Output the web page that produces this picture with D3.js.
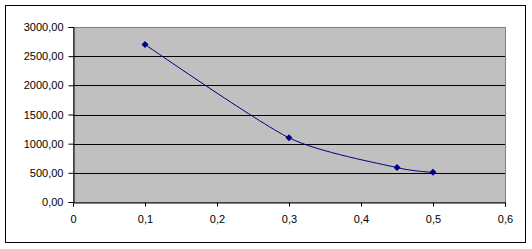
<!DOCTYPE html>
<html lang="en">
<head>
    <script src="https://d3js.org/d3.v7.min.js"></script>
    <style>
        body { margin: 0; background: #fff; }
        * { font-family: Arial, "Liberation Sans", sans-serif; }
        .tick text { font-size: 11px; fill: #000; }
    </style>
</head>
<body>
<svg class="chart"></svg>
<script>
    // data
    const xValues = [0.1, 0.3, 0.45, 0.5];
    const yValues = [2700, 1100, 590, 510];
    const xTicks = [0, 0.1, 0.2, 0.3, 0.4, 0.5, 0.6];
    const yTicks = [0, 500, 1000, 1500, 2000, 2500, 3000];

    const points = xValues.map((x, i) => ({x: x, y: yValues[i]}));

    const width = 532, height = 249;
    const plot = {left: 73, top: 27, right: 505, bottom: 202};

    const svg = d3.select("svg.chart")
        .attr("width", width)
        .attr("height", height);

    // outer chart frame
    svg.append("rect")
        .attr("x", 5.5).attr("y", 5.5)
        .attr("width", 520).attr("height", 237)
        .attr("fill", "#fff")
        .attr("stroke", "#000")
        .attr("stroke-width", 1);

    const x = d3.scaleLinear().domain([0, 0.6]).range([plot.left, plot.right]);
    const y = d3.scaleLinear().domain([0, 3000]).range([plot.bottom, plot.top]);
    const comma = d => d3.format(".2f")(d).replace(".", ",");

    // plot area
    svg.append("rect")
        .attr("x", plot.left).attr("y", plot.top)
        .attr("width", plot.right - plot.left)
        .attr("height", plot.bottom - plot.top)
        .attr("fill", "#c0c0c0")
        .attr("stroke", "#808080")
        .attr("shape-rendering", "crispEdges");

    // gridlines
    svg.append("g")
        .selectAll("line")
        .data(yTicks.filter(t => t > 0 && t < 3000))
        .enter().append("line")
        .attr("x1", plot.left).attr("x2", plot.right)
        .attr("y1", d => Math.round(y(d)) + 0.5)
        .attr("y2", d => Math.round(y(d)) + 0.5)
        .attr("stroke", "#000");

    // axes
    const yAxis = svg.append("g")
        .attr("transform", `translate(${plot.left + 0.5},0)`)
        .call(d3.axisLeft(y).tickValues(yTicks).tickFormat(comma).tickSize(5).tickPadding(5));
    const xAxis = svg.append("g")
        .attr("transform", `translate(0,${plot.bottom + 0.5})`)
        .call(d3.axisBottom(x).tickValues(xTicks)
            .tickFormat(d => d === 0 ? "0" : String(d).replace(".", ","))
            .tickSize(4).tickPadding(9));
    [yAxis, xAxis].forEach(a => {
        a.select(".domain").attr("stroke", "#000");
        a.selectAll(".tick line").attr("stroke", "#000");
        a.attr("font-family", null).attr("font-size", null);
    });

    // smoothed line (a little straighter than plain Catmull-Rom)
    const line = d3.line()
        .x(d => x(d.x))
        .y(d => y(d.y))
        .curve(d3.curveCardinal.tension(0.3));

    svg.append("path")
        .datum(points)
        .attr("d", line)
        .attr("fill", "none")
        .attr("stroke", "#000080")
        .attr("stroke-width", 1);

    // diamond markers
    svg.append("g")
        .selectAll("path")
        .data(points)
        .enter().append("path")
        .attr("transform", d => `translate(${x(d.x)},${y(d.y)})`)
        .attr("d", "M0,-3.5L3.5,0L0,3.5L-3.5,0Z")
        .attr("fill", "#000080");
</script>
</body>
</html>
